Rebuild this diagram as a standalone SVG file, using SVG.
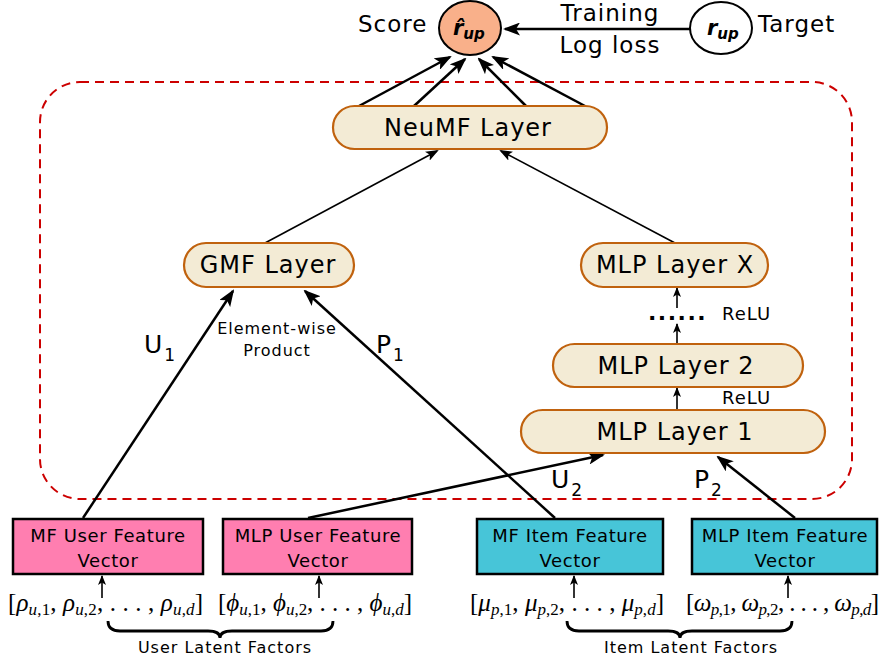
<svg xmlns="http://www.w3.org/2000/svg" width="881" height="663" viewBox="0 0 881 663">
<defs>
<style>
.t{font-family:"DejaVu Sans",Verdana,sans-serif;fill:#000}
.lay{fill:#f3ebd5;stroke:#c0620e;stroke-width:2.2}
.box{stroke:#000;stroke-width:2.5}
.pink{fill:#ff7eb0}
.cyan{fill:#47c5d8}
.ln{fill:none;stroke:#000}
.m{font-family:"Liberation Serif","Times New Roman",serif;font-size:25px;fill:#000}
.i{font-style:italic}
.s{font-size:17px}
</style>
<marker id="ah" markerUnits="userSpaceOnUse" markerWidth="17" markerHeight="13" viewBox="0 0 17 13" refX="15" refY="6.5" orient="auto"><path d="M0,0 L17,6.5 L0,13 L4,6.5 z" fill="#000"/></marker>
<marker id="am" markerUnits="userSpaceOnUse" markerWidth="13" markerHeight="10" viewBox="0 0 13 10" refX="11" refY="5" orient="auto"><path d="M0,0 L13,5 L0,10 L3,5 z" fill="#000"/></marker>
<marker id="as" markerUnits="userSpaceOnUse" markerWidth="10" markerHeight="8" viewBox="0 0 10 8" refX="9" refY="4" orient="auto"><path d="M0,0 L10,4 L0,8 L2.5,4 z" fill="#000"/></marker>
</defs>
<rect x="40" y="82" width="812" height="417" rx="40" ry="40" fill="none" stroke="#cc0000" stroke-width="2" stroke-dasharray="9,6"/>
<g id="connectors">
<line class="ln" x1="690" y1="29" x2="505" y2="29" stroke-width="2.5" marker-end="url(#ah)"/>
<line class="ln" x1="359" y1="106" x2="450" y2="57" stroke-width="2.5" marker-end="url(#ah)"/>
<line class="ln" x1="414" y1="106" x2="465" y2="59" stroke-width="2.5" marker-end="url(#ah)"/>
<line class="ln" x1="526" y1="106" x2="479" y2="59" stroke-width="2.5" marker-end="url(#ah)"/>
<line class="ln" x1="585" y1="106" x2="493" y2="57" stroke-width="2.5" marker-end="url(#ah)"/>
<line class="ln" x1="265" y1="243" x2="437" y2="151" stroke-width="1.6" marker-end="url(#am)"/>
<line class="ln" x1="675" y1="243" x2="501" y2="151" stroke-width="1.6" marker-end="url(#am)"/>
<line class="ln" x1="83" y1="518" x2="233" y2="291" stroke-width="2.5" marker-end="url(#ah)"/>
<line class="ln" x1="555" y1="518" x2="305" y2="291" stroke-width="2.5" marker-end="url(#ah)"/>
<line class="ln" x1="308" y1="518" x2="603" y2="455" stroke-width="2.5" marker-end="url(#ah)"/>
<line class="ln" x1="795" y1="518" x2="718" y2="457" stroke-width="2.5" marker-end="url(#ah)"/>
<line class="ln" x1="677" y1="410" x2="677" y2="388" stroke-width="1.6" marker-end="url(#as)"/>
<line class="ln" x1="677" y1="344" x2="677" y2="324" stroke-width="1.6" marker-end="url(#as)"/>
<line class="ln" x1="677" y1="308" x2="677" y2="288" stroke-width="1.6" marker-end="url(#as)"/>
<line class="ln" x1="102" y1="598" x2="102" y2="576" stroke-width="1.6" marker-end="url(#as)"/>
<line class="ln" x1="319" y1="598" x2="319" y2="576" stroke-width="1.6" marker-end="url(#as)"/>
<line class="ln" x1="574" y1="598" x2="574" y2="576" stroke-width="1.6" marker-end="url(#as)"/>
<line class="ln" x1="788" y1="598" x2="788" y2="576" stroke-width="1.6" marker-end="url(#as)"/>
</g>
<g id="score">
<ellipse cx="470" cy="28" rx="31" ry="27" fill="#f9b08a" stroke="#000" stroke-width="2"/>
<text class="t" x="453" y="35" font-size="21" font-weight="bold" font-style="italic">r̂<tspan font-size="15" dy="4">up</tspan></text>
<text class="t" x="358" y="32" font-size="23" letter-spacing="1">Score</text>
</g>
<g id="target">
<ellipse cx="721" cy="28" rx="31" ry="26" fill="#fff" stroke="#000" stroke-width="2"/>
<text class="t" x="707" y="35" font-size="21" font-weight="bold" font-style="italic">r<tspan font-size="15" dy="4">up</tspan></text>
<text class="t" x="758" y="32" font-size="23" letter-spacing="1">Target</text>
</g>
<g id="loss-label">
<text class="t" x="610" y="21" font-size="23" letter-spacing="1" text-anchor="middle">Training</text>
<text class="t" x="610" y="53" font-size="23" letter-spacing="1" text-anchor="middle">Log loss</text>
</g>
<g id="neumf">
<rect class="lay" x="333" y="106" width="274" height="43" rx="21.5"/>
<text class="t" x="468" y="136" font-size="24" letter-spacing="1" text-anchor="middle">NeuMF Layer</text>
</g>
<g id="gmf">
<rect class="lay" x="184" y="243" width="170" height="44" rx="22"/>
<text class="t" x="268" y="273" font-size="24" letter-spacing="1" text-anchor="middle">GMF Layer</text>
</g>
<g id="mlpx">
<rect class="lay" x="581" y="243" width="187" height="44" rx="22"/>
<text class="t" x="675" y="273" font-size="24" letter-spacing="1" text-anchor="middle">MLP Layer X</text>
</g>
<g id="mlp2">
<rect class="lay" x="553" y="344" width="250" height="43" rx="21.5"/>
<text class="t" x="676" y="374" font-size="24" letter-spacing="1" text-anchor="middle">MLP Layer 2</text>
</g>
<g id="mlp1">
<rect class="lay" x="521" y="410" width="304" height="43" rx="21.5"/>
<text class="t" x="675" y="440" font-size="24" letter-spacing="1" text-anchor="middle">MLP Layer 1</text>
</g>
<g id="labels">
<text class="t" x="722" y="404" font-size="18" letter-spacing="1">ReLU</text>
<text class="t" x="722" y="320" font-size="18" letter-spacing="1">ReLU</text>
<text class="t" x="648" y="320" font-size="22" letter-spacing="1.5" font-weight="bold">......</text>
<text class="t" x="277" y="334" font-size="16" letter-spacing="1" text-anchor="middle">Element-wise</text>
<text class="t" x="277" y="356" font-size="16" letter-spacing="1" text-anchor="middle">Product</text>
<text class="t" x="144" y="353" font-size="25">U<tspan font-size="17" dy="8" dx="2">1</tspan></text>
<text class="t" x="376" y="353" font-size="25">P<tspan font-size="17" dy="8" dx="2">1</tspan></text>
<text class="t" x="551" y="488" font-size="25">U<tspan font-size="17" dy="8" dx="2">2</tspan></text>
<text class="t" x="694" y="488" font-size="25">P<tspan font-size="17" dy="8" dx="2">2</tspan></text>
</g>
<g id="mf-user">
<rect class="box pink" x="13" y="519" width="190" height="55"/>
<text class="t" x="108" y="542" font-size="18" letter-spacing="0.6" text-anchor="middle">MF User Feature</text>
<text class="t" x="108" y="567" font-size="18" letter-spacing="0.6" text-anchor="middle">Vector</text>
</g>
<g id="mlp-user">
<rect class="box pink" x="223" y="519" width="189" height="55"/>
<text class="t" x="318" y="542" font-size="18" letter-spacing="0.6" text-anchor="middle">MLP User Feature</text>
<text class="t" x="318" y="567" font-size="18" letter-spacing="0.6" text-anchor="middle">Vector</text>
</g>
<g id="mf-item">
<rect class="box cyan" x="477" y="519" width="186" height="55"/>
<text class="t" x="570" y="542" font-size="18" letter-spacing="0.6" text-anchor="middle">MF Item Feature</text>
<text class="t" x="570" y="567" font-size="18" letter-spacing="0.6" text-anchor="middle">Vector</text>
</g>
<g id="mlp-item">
<rect class="box cyan" x="692" y="519" width="185" height="55"/>
<text class="t" x="785" y="542" font-size="18" letter-spacing="0.6" text-anchor="middle">MLP Item Feature</text>
<text class="t" x="785" y="567" font-size="18" letter-spacing="0.6" text-anchor="middle">Vector</text>
</g>
<g id="math">
<text class="m" x="8" y="611" textLength="195" lengthAdjust="spacing">[<tspan class="i">ρ</tspan><tspan class="s" dy="4"><tspan class="i">u</tspan>,1</tspan><tspan dy="-4">, </tspan><tspan class="i">ρ</tspan><tspan class="s" dy="4"><tspan class="i">u</tspan>,2</tspan><tspan dy="-4">, . . . , </tspan><tspan class="i">ρ</tspan><tspan class="s" dy="4"><tspan class="i">u</tspan>,<tspan class="i">d</tspan></tspan><tspan dy="-4">]</tspan></text>
<text class="m" x="218" y="611" textLength="194" lengthAdjust="spacing">[<tspan class="i">ϕ</tspan><tspan class="s" dy="4"><tspan class="i">u</tspan>,1</tspan><tspan dy="-4">, </tspan><tspan class="i">ϕ</tspan><tspan class="s" dy="4"><tspan class="i">u</tspan>,2</tspan><tspan dy="-4">, . . . , </tspan><tspan class="i">ϕ</tspan><tspan class="s" dy="4"><tspan class="i">u</tspan>,<tspan class="i">d</tspan></tspan><tspan dy="-4">]</tspan></text>
<text class="m" x="470" y="611" textLength="194" lengthAdjust="spacing">[<tspan class="i">μ</tspan><tspan class="s" dy="4"><tspan class="i">p</tspan>,1</tspan><tspan dy="-4">, </tspan><tspan class="i">μ</tspan><tspan class="s" dy="4"><tspan class="i">p</tspan>,2</tspan><tspan dy="-4">, . . . , </tspan><tspan class="i">μ</tspan><tspan class="s" dy="4"><tspan class="i">p</tspan>,<tspan class="i">d</tspan></tspan><tspan dy="-4">]</tspan></text>
<text class="m" x="686" y="611" textLength="193" lengthAdjust="spacing">[<tspan class="i">ω</tspan><tspan class="s" dy="4"><tspan class="i">p</tspan>,1</tspan><tspan dy="-4">, </tspan><tspan class="i">ω</tspan><tspan class="s" dy="4"><tspan class="i">p</tspan>,2</tspan><tspan dy="-4">, . . . , </tspan><tspan class="i">ω</tspan><tspan class="s" dy="4"><tspan class="i">p</tspan>,<tspan class="i">d</tspan></tspan><tspan dy="-4">]</tspan></text>
</g>
<g id="user-brace">
<path class="ln" stroke-width="2.8" d="M108,621 Q108,631 120,631 L208,631 Q220,631 220,638 Q220,631 232,631 L321,631 Q333,631 333,621"/>
<text class="t" x="225" y="653" font-size="16" letter-spacing="1" text-anchor="middle">User Latent Factors</text>
</g>
<g id="item-brace">
<path class="ln" stroke-width="2.8" d="M567,621 Q567,631 579,631 L668,631 Q680,631 680,638 Q680,631 692,631 L780,631 Q792,631 792,621"/>
<text class="t" x="691" y="653" font-size="16" letter-spacing="1" text-anchor="middle">Item Latent Factors</text>
</g>
</svg>
